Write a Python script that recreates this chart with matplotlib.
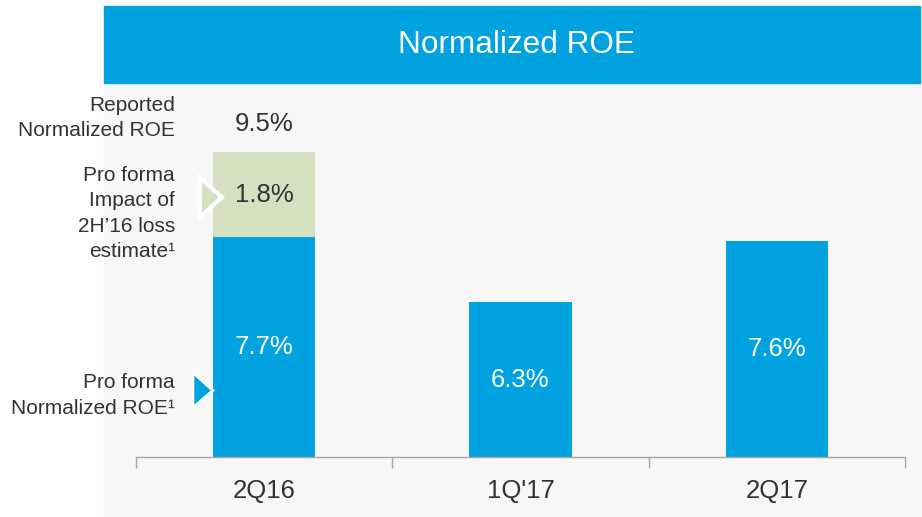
import matplotlib
matplotlib.use('Agg')
import matplotlib.pyplot as plt
from matplotlib.patches import Rectangle, Polygon

plt.rcParams['font.family'] = ['Liberation Sans', 'DejaVu Sans']

# data
quarters = ['2Q16', "1Q'17", '2Q17']
pro_forma_roe = [7.7, 6.3, 7.6]
loss_impact = [1.8, 0, 0]
reported_roe = [9.5, None, None]
side_labels = ['Reported\nNormalized ROE',
               'Pro forma\nImpact of\n2H\u201916 loss\nestimate\u00b9',
               'Pro forma\nNormalized ROE\u00b9']

blue = '#00A3E0'
green = '#D4E0BF'
txt = '#333333'

W, H = 922, 517
fig = plt.figure(figsize=(W / 100, H / 100), dpi=100)
fig.patch.set_facecolor('white')

def fx(px):
    return px / W

def fy(py):
    return 1 - py / H

# grey panel + title banner
fig.patches.append(Rectangle((fx(104), 0), fx(922 - 104), (517 - 82) / H,
                             transform=fig.transFigure, color='#F7F7F7', zorder=-2))
fig.patches.append(Rectangle((fx(104), fy(83)), fx(920 - 104), 77 / H,
                             transform=fig.transFigure, color=blue, zorder=-1))
fig.text(fx(516), fy(45), 'Normalized ROE', color='white', fontsize=22.7,
         ha='center', va='center')

ax = fig.add_axes([fx(136), fy(457), fx(905 - 136), (457 - 82) / H])
ax.set_facecolor('none')
ax.set_zorder(1)

x = list(range(len(quarters)))
bw = 0.40
ax.bar(x, pro_forma_roe, width=bw, color=blue, zorder=2)
ax.bar(x, loss_impact, width=bw, bottom=pro_forma_roe, color=green, zorder=2)

ax.set_xlim(-0.5, 2.5)
ax.set_ylim(3.0, 11.0)

for i in x:
    ax.text(i, (3.0 + pro_forma_roe[i]) / 2, f'{pro_forma_roe[i]:.1f}%',
            color='white', fontsize=18.5, ha='center', va='center', zorder=3)
    if loss_impact[i]:
        ax.text(i, pro_forma_roe[i] + loss_impact[i] / 2, f'{loss_impact[i]:.1f}%',
                color=txt, fontsize=18.5, ha='center', va='center', zorder=3)
    if reported_roe[i]:
        ax.text(i, reported_roe[i] + 0.6, f'{reported_roe[i]:.1f}%',
                color=txt, fontsize=18.5, ha='center', va='center', zorder=3)

# pointer triangles
left = -bw / 2
g = Polygon([[left - 0.051, 8.12], [left - 0.051, 8.96], [left + 0.035, 8.54]],
            closed=True, facecolor=green, edgecolor='white', lw=3,
            clip_on=False, zorder=4)
b = Polygon([[left - 0.078, 4.05], [left - 0.078, 4.80], [left, 4.42]],
            closed=True, facecolor=blue, edgecolor='white', lw=2,
            clip_on=False, zorder=4)
ax.add_patch(g)
ax.add_patch(b)

for s in ['top', 'right', 'left']:
    ax.spines[s].set_visible(False)
ax.spines['bottom'].set_color('#A6A6A6')
ax.spines['bottom'].set_linewidth(1)
ax.set_yticks([])
ax.set_xticks([-0.5, 0.5, 1.5, 2.5])
ax.set_xticklabels([])
ax.tick_params(axis='x', which='major', length=8, color='#A6A6A6', width=1)
ax.set_xticks(x, minor=True)
ax.set_xticklabels(quarters, minor=True, fontsize=18.5, color=txt)
ax.tick_params(axis='x', which='minor', length=0, pad=15.5)

# side labels
for lab, py in zip(side_labels, [118, 213.5, 395.5]):
    fig.text(fx(175), fy(py), lab, color=txt, fontsize=15, ha='right',
             va='center', multialignment='right', linespacing=1.43)

fig.savefig('out.png', dpi=100)
